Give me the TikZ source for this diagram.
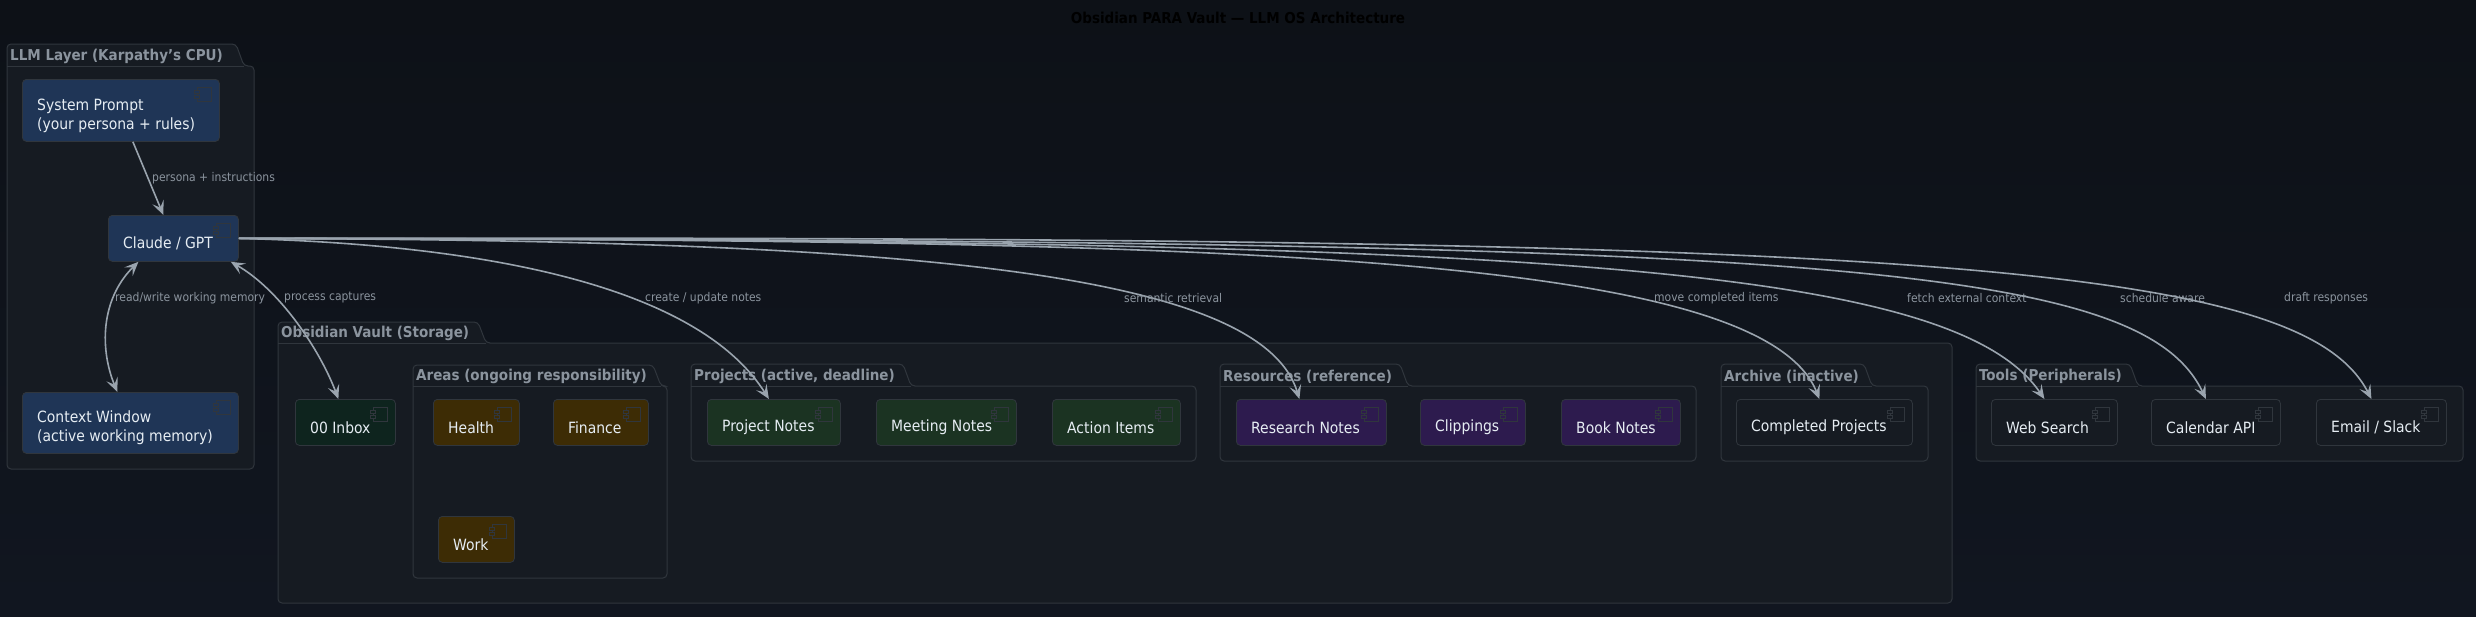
\documentclass[tikz,border=0pt]{standalone}
\usepackage{fontspec}
\setmainfont{DejaVu Sans Condensed}
\usetikzlibrary{arrows.meta,calc}
\definecolor{bgA}{HTML}{0D1117}
\definecolor{bgB}{HTML}{111620}
\definecolor{pkgfill}{HTML}{161B22}
\definecolor{pkgline}{HTML}{30363D}
\definecolor{pkgtxt}{HTML}{8B949E}
\definecolor{txt}{HTML}{E6EDF3}
\definecolor{arr}{HTML}{9AA4AE}
\definecolor{cblue}{HTML}{1F3556}
\definecolor{cgreenI}{HTML}{0E241E}
\definecolor{camber}{HTML}{3D2C05}
\definecolor{cgreen}{HTML}{1B3322}
\definecolor{cpurple}{HTML}{2D1B4E}
\definecolor{cdark}{HTML}{161B22}
\tikzset{
  compbox/.style={draw=pkgline, line width=0.8pt, rounded corners=4pt, anchor=north west, inner sep=0pt, font=\fontsize{15}{18}\selectfont, text=txt},
  pkgbody/.style={draw=pkgline, line width=1pt, fill=pkgfill},
  pkgtitle/.style={anchor=south west, font=\bfseries\fontsize{15}{18}\selectfont, text=pkgtxt, inner sep=2pt},
  link/.style={draw=arr, line width=1.6pt, -{Stealth[length=14pt,width=12pt,inset=6pt]}},
  blink/.style={draw=arr, line width=1.6pt, {Stealth[length=14pt,width=12pt,inset=6pt]}-{Stealth[length=14pt,width=12pt,inset=6pt]}},
  elabel/.style={font=\fontsize{12}{14}\selectfont, text=pkgtxt, anchor=west, inner sep=0pt},
}
% \comp{name}{x1}{y1}{x2}{y2}{fill}{text}
\newcommand\comp[7]{%
  \node[compbox, fill=#6, minimum width=#4-#2, minimum height=#5-#3] (#1) at (#2,#3) {};
  \node[anchor=west, align=left, text=txt, font=\fontsize{15.5}{19}\selectfont, inner sep=0pt] (#1t) at ($(#1.west)+(15,5)$) {#7};
  \draw[pkgline, line width=0.8pt] ($(#1.north east)+(-22,8)$) rectangle ($(#1.north east)+(-8,22)$);
  \draw[pkgline, line width=0.8pt, fill=#6] ($(#1.north east)+(-25,11)$) rectangle ($(#1.north east)+(-20,14)$);
  \draw[pkgline, line width=0.8pt, fill=#6] ($(#1.north east)+(-25,16)$) rectangle ($(#1.north east)+(-20,19)$);
}
% \pkg{x1}{tabtop}{tabright}{bodytop}{x2}{y2}{title}
\newcommand\pkg[7]{%
  \draw[pkgbody, rounded corners=4pt] (#1,#4) -- (#1,#2) -- (#3,#2) -- (#3+8,#4) -- (#5,#4) -- (#5,#6) -- (#1,#6) -- cycle;
  \draw[pkgline, line width=1pt] (#1,#4) -- (#3+8,#4);
  \node[pkgtitle] at (#1+1,#4) {#7};
}
\begin{document}
\begin{tikzpicture}[x=1pt,y=-1pt]
\shade[top color=bgA, bottom color=bgB] (0,0) rectangle (2476,616);
\useasboundingbox (0,0) rectangle (2476,616);
\node[font=\bfseries\fontsize{15}{18}\selectfont, text=black] (title) at (1238,18) {Obsidian PARA Vault — LLM OS Architecture};

% LLM layer
\pkg{7}{44}{236}{66}{254}{469}{LLM Layer (Karpathy's CPU)}
\comp{sys}{22}{79}{219}{141}{cblue}{System Prompt\\(your persona + rules)}
\comp{llm}{108}{215}{238}{261}{cblue}{Claude / GPT}
\comp{ctx}{22}{392}{238}{453}{cblue}{Context Window\\(active working memory)}

% Vault
\pkg{278}{322}{478}{343}{1952}{603}{Obsidian Vault (Storage)}
\comp{inbox}{295}{399}{395}{445}{cgreenI}{00 Inbox}
\pkg{413}{365}{653}{386}{667}{578}{Areas (ongoing responsibility)}
\comp{health}{433}{399}{519}{445}{camber}{Health}
\comp{finance}{553}{399}{648}{445}{camber}{Finance}
\comp{work}{438}{516}{514}{562}{camber}{Work}
\pkg{691}{364}{903}{386}{1196}{461}{Projects (active, deadline)}
\comp{proj}{707}{399}{840}{445}{cgreen}{Project Notes}
\comp{meet}{876}{399}{1016}{445}{cgreen}{Meeting Notes}
\comp{act}{1052}{399}{1180}{445}{cgreen}{Action Items}
\pkg{1220}{364}{1400}{386}{1696}{461}{Resources (reference)}
\comp{res}{1236}{399}{1386}{445}{cpurple}{Research Notes}
\comp{clip}{1420}{399}{1525}{445}{cpurple}{Clippings}
\comp{book}{1561}{399}{1680}{445}{cpurple}{Book Notes}
\pkg{1721}{364}{1864}{386}{1928}{461}{Archive (inactive)}
\comp{done}{1736}{399}{1912}{445}{cdark}{Completed Projects}

% Tools
\pkg{1976}{364}{2130}{386}{2463}{461}{Tools (Peripherals)}
\comp{web}{1991}{399}{2117}{445}{cdark}{Web Search}
\comp{cal}{2151}{399}{2280}{445}{cdark}{Calendar API}
\comp{mail}{2316}{399}{2446}{445}{cdark}{Email / Slack}

% connectors
\draw[link] ($(sys.south)+(12,0)$) -- ($(llm.north)+(-10,0)$);
\node[elabel] (l1) at (152,178) {persona + instructions};
\draw[blink] ($(llm.south)+(-35,0)$) .. controls (100,300) and (100,350) .. ($(ctx.north)+(-13,0)$);
\node[elabel] (l2) at (115,298) {read/write working memory};
\draw[blink] ($(llm.south east)+(-8,0)$) .. controls (280,290) and (320,350) .. ($(inbox.north)+(-7,0)$);
\node[elabel] (l3) at (284,298) {process captures};
\draw[link] (llm.east) .. controls (500,245) and (700,290) .. ($(proj.north)+(-5,0)$);
\node[elabel] (l4) at (645,298) {create / update notes};
\draw[link] (llm.east) .. controls (900,240) and (1260,270) .. ($(res.north)+(-12,0)$);
\node[elabel] (l5) at (1124,298) {semantic retrieval};
\draw[link] (llm.east) .. controls (1200,240) and (1760,250) .. ($(done.north)+(-5,0)$);
\node[elabel] (l6) at (1654,298) {move completed items};
\draw[link] (llm.east) .. controls (1500,240) and (1950,260) .. ($(web.north)+(-10,0)$);
\node[elabel] (l7) at (1907,298) {fetch external context};
\draw[link] (llm.east) .. controls (1800,240) and (2140,260) .. ($(cal.north)+(-10,0)$);
\node[elabel] (l8) at (2120,298) {schedule aware};
\draw[link] (llm.east) .. controls (1900,235) and (2300,260) .. ($(mail.north)+(-10,0)$);
\node[elabel] (l9) at (2284,298) {draft responses};
\end{tikzpicture}
\end{document}
